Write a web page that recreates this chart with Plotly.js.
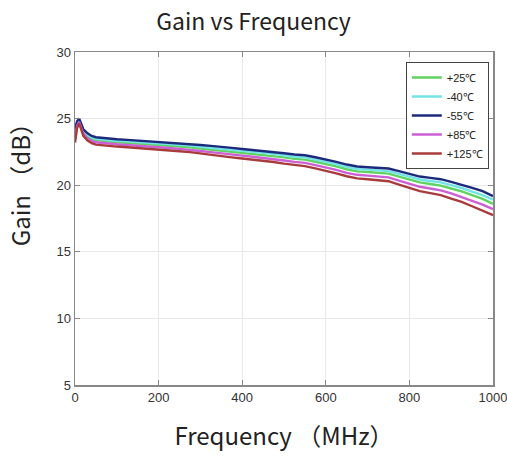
<!DOCTYPE html>
<html>
<head>
<meta charset="utf-8">
<script src="https://cdn.plot.ly/plotly-3.0.1.min.js"></script>
<style>html,body{margin:0;padding:0;background:#fff;}#chart{width:507px;height:457px;}</style>
</head>
<body>
<div id="chart"></div>
<script>
const freq = [0,5,10,15,20,30,40,50,75,100,125,150,175,200,225,250,275,300,325,350,375,400,425,450,475,500,525,550,575,600,625,650,675,700,725,750,775,800,825,850,875,900,925,950,975,1000];

const seriesNames = ["+25\u2103", "-40\u2103", "-55\u2103", "+85\u2103", "+125\u2103"];

const gain25 = [23.8,24.6,24.86,24.4,24.0,23.68,23.48,23.38,23.28,23.23,23.18,23.13,23.08,23.05,22.97,22.91,22.85,22.76,22.68,22.62,22.52,22.43,22.36,22.28,22.2,22.09,21.98,21.92,21.76,21.61,21.41,21.2,21.04,20.99,20.93,20.87,20.65,20.43,20.21,20.09,19.97,19.75,19.53,19.25,18.97,18.6];
const gainM40 = [24.0,24.7,24.93,24.5,24.1,23.79,23.59,23.49,23.39,23.34,23.29,23.24,23.19,23.16,23.08,23.03,22.98,22.89,22.82,22.76,22.66,22.58,22.5,22.43,22.35,22.24,22.14,22.09,21.93,21.78,21.58,21.37,21.22,21.17,21.12,21.06,20.85,20.64,20.43,20.32,20.21,20.0,19.79,19.52,19.26,18.92];
const gainM55 = [24.2,24.8,25.0,24.6,24.2,23.9,23.7,23.6,23.5,23.45,23.4,23.35,23.3,23.27,23.2,23.15,23.1,23.02,22.95,22.9,22.8,22.72,22.65,22.58,22.5,22.4,22.3,22.25,22.1,21.95,21.75,21.55,21.4,21.35,21.3,21.25,21.05,20.85,20.65,20.55,20.45,20.25,20.05,19.8,19.55,19.18];
const gain85 = [23.5,24.45,24.75,24.25,23.85,23.52,23.32,23.22,23.12,23.07,23.02,22.97,22.92,22.89,22.79,22.73,22.67,22.57,22.48,22.41,22.3,22.22,22.14,22.06,21.97,21.85,21.75,21.68,21.51,21.35,21.15,20.93,20.78,20.72,20.66,20.59,20.35,20.12,19.88,19.75,19.61,19.38,19.13,18.83,18.54,18.2];
const gain125 = [23.2,24.3,24.65,24.1,23.7,23.35,23.15,23.05,22.95,22.9,22.85,22.8,22.75,22.7,22.62,22.55,22.48,22.37,22.28,22.2,22.09,22.0,21.92,21.83,21.74,21.62,21.51,21.43,21.26,21.1,20.89,20.67,20.51,20.45,20.38,20.3,20.05,19.8,19.55,19.4,19.25,19.0,18.74,18.42,18.1,17.75];

const yTicks = [5,10,15,20,25,30];
const xTicks = [0,200,400,600,800,1000];

const seriesData = [gain25, gainM40, gainM55, gain85, gain125];
const colors = ["#5fd35f", "#72e4e8", "#1c2a7c", "#cc5fd6", "#a83c3c"];

const traces = seriesData.map((g, i) => ({
  x: freq, y: g, name: seriesNames[i], type: "scatter", mode: "lines",
  line: {color: colors[i], width: 2.4}
}));

const titleFont = "Noto Sans CJK SC, Noto Sans, sans-serif";

const layout = {
  width: 507, height: 457,
  margin: {l: 75, r: 14, t: 52, b: 72},
  paper_bgcolor: "#fff", plot_bgcolor: "#fff",
  font: {family: "Liberation Sans, Arial, sans-serif", color: "#333"},
  title: {text: "Gain vs Frequency", x: 0.5, xanchor: "center", y: 0.951, yanchor: "middle",
          font: {family: titleFont, size: 23, color: "#222"}},
  xaxis: {
    range: [0, 1000], tickvals: xTicks, ticktext: xTicks.map(String),
    ticks: "inside", ticklen: 5, tickcolor: "#888", mirror: "ticks",
    showline: true, linecolor: "#888", linewidth: 1.5,
    showgrid: true, gridcolor: "#e8e8e8", zeroline: false,
    tickfont: {size: 13, color: "#333"}, ticklabeloverflow: "allow",
    title: {text: "Frequency \uFF08MHz\uFF09", standoff: 24,
            font: {family: titleFont, size: 24, color: "#222"}}
  },
  yaxis: {
    range: [5, 30], tickvals: yTicks, ticktext: yTicks.map(String),
    ticks: "inside", ticklen: 5, tickcolor: "#888", mirror: "ticks",
    showline: true, linecolor: "#888", linewidth: 1.5,
    showgrid: true, gridcolor: "#e8e8e8", zeroline: false,
    tickfont: {size: 13, color: "#333"}
  },
  annotations: [{
    text: "Gain \uFF08dB\uFF09", textangle: -90, xref: "paper", yref: "paper",
    x: -0.132, y: 0.62, xanchor: "center", yanchor: "middle", showarrow: false,
    font: {family: titleFont, size: 24, color: "#222"}
  }],
  legend: {
    x: 0.99, xanchor: "right", y: 0.97, yanchor: "top",
    bgcolor: "#fff", bordercolor: "#444", borderwidth: 1,
    font: {size: 11, color: "#222"}, tracegroupgap: 0
  },
  showlegend: true
};

Plotly.newPlot("chart", traces, layout, {displayModeBar: false, staticPlot: true});
</script>
</body>
</html>
